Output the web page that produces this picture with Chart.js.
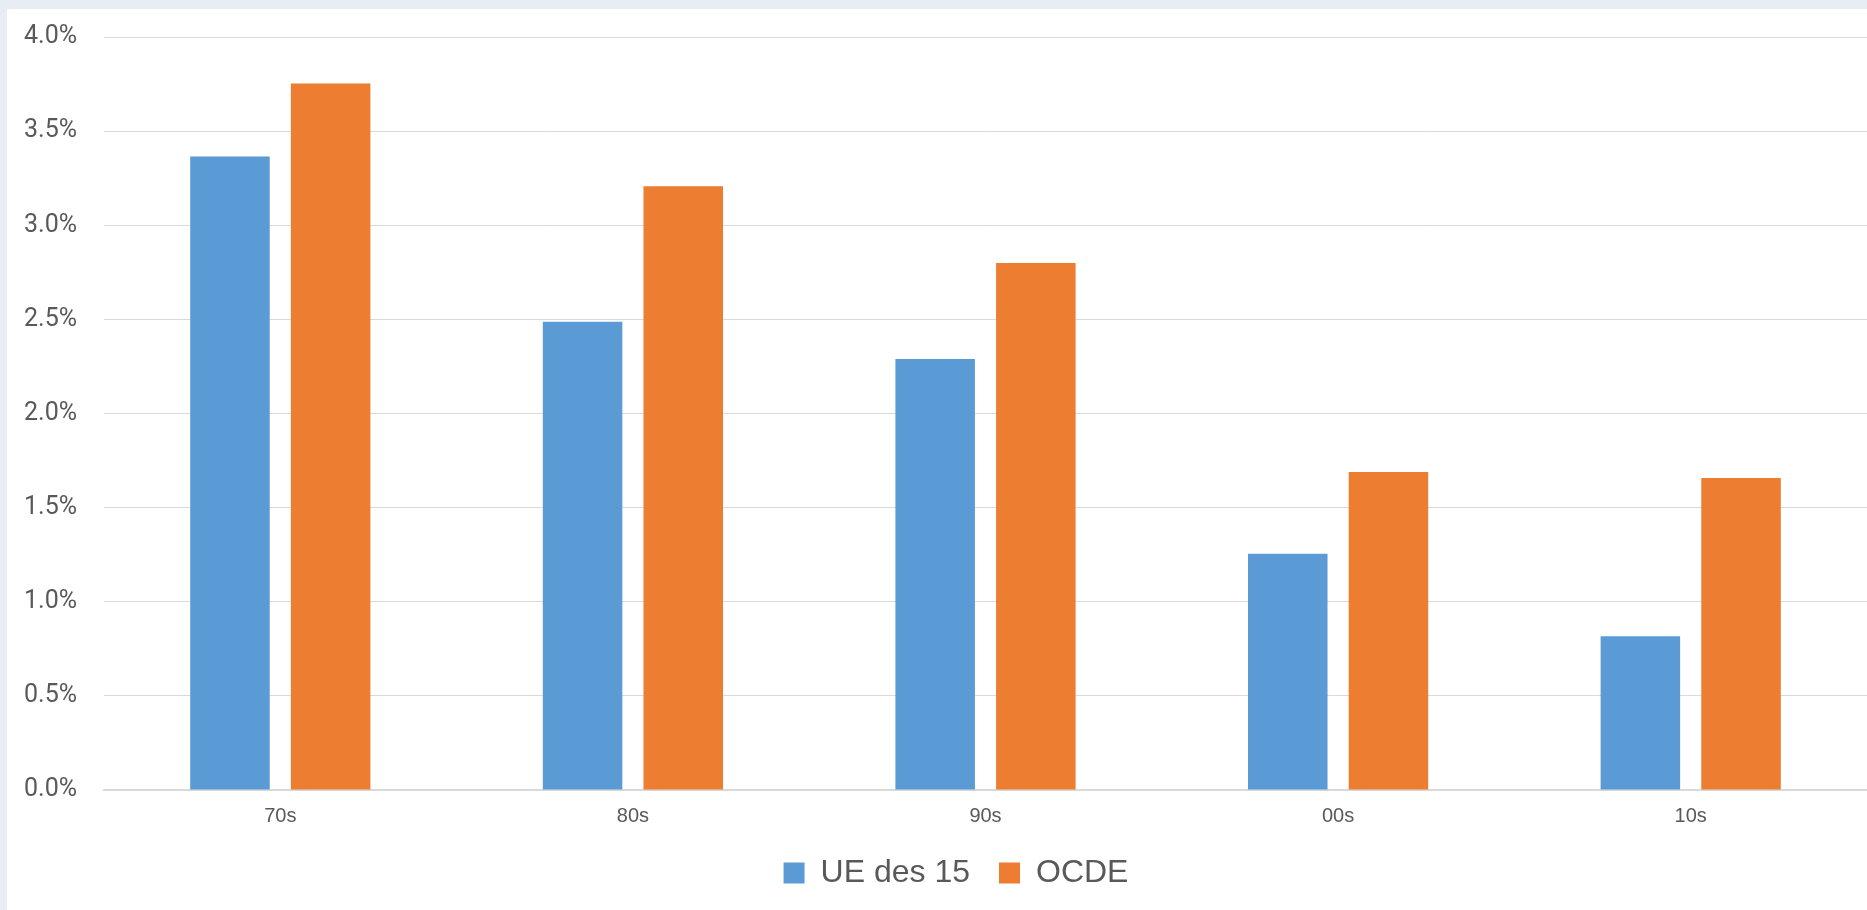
<!DOCTYPE html>
<html>
<head>
<meta charset="utf-8">
<script src="https://cdn.jsdelivr.net/npm/chart.js@4/dist/chart.umd.min.js"></script>
<style>
  html, body { margin: 0; padding: 0; background: #e8edf5; }
  #frame { position: absolute; left: 7px; top: 9px; width: 1860px; height: 901px; background: #ffffff; }
</style>
</head>
<body>
<div id="frame"><canvas id="growth" width="1860" height="901"></canvas></div>
<script>
const decades = ['70s', '80s', '90s', '00s', '10s'];
const ueValues = [3.365, 2.487, 2.289, 1.255, 0.817];
const ocdeValues = [3.753, 3.207, 2.80, 1.689, 1.657];
const seriesNames = ['UE des 15', 'OCDE'];

const textColor = '#595959';
const ctx = document.getElementById('growth');

// legend sits a bit right of the canvas centre in the original
const legendShift = {
  id: 'legendShift',
  afterLayout(chart) {
    chart.legend.left += 19;
    chart.legend.right += 19;
  }
};

new Chart(ctx, {
  type: 'bar',
  data: {
    labels: decades,
    datasets: [
      { label: seriesNames[0], data: ueValues, backgroundColor: '#5b9bd5' },
      { label: seriesNames[1], data: ocdeValues, backgroundColor: '#ed7d31' }
    ]
  },
  plugins: [legendShift],
  options: {
    responsive: false,
    animation: false,
    datasets: {
      bar: { categoryPercentage: 0.571, barPercentage: 0.79 }
    },
    layout: {
      padding: { top: 28, bottom: 11, left: 0, right: 0 }
    },
    plugins: {
      tooltip: { enabled: false },
      legend: {
        position: 'bottom',
        labels: {
          color: textColor,
          font: { family: "'Liberation Sans', Arial, sans-serif", size: 32 },
          boxWidth: 21,
          boxHeight: 21,
          padding: 29
        }
      }
    },
    scales: {
      x: {
        grid: { display: false, drawTicks: false },
        border: { color: '#d9d9d9', width: 2 },
        ticks: {
          color: textColor,
          font: { family: "'Liberation Sans', Arial, sans-serif", size: 20 },
          padding: 14
        },
        afterFit: (scale) => { scale.height = 38; }
      },
      y: {
        min: 0,
        max: 4,
        grid: { color: '#d9d9d9', lineWidth: 1, drawTicks: false },
        border: { display: false },
        ticks: {
          stepSize: 0.5,
          color: textColor,
          font: { family: "Roboto, sans-serif", size: 25 },
          padding: 27,
          callback: (v) => v.toFixed(1) + '%'
        },
        afterFit: (scale) => {
          scale.width = 97;
          scale.paddingTop = 0;
          scale.paddingBottom = 0;
        }
      }
    }
  }
});
</script>
</body>
</html>
